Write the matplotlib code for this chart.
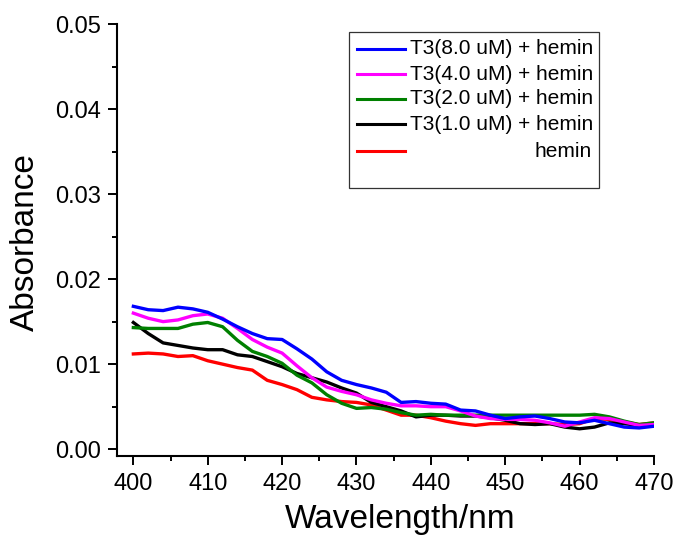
import matplotlib
matplotlib.use("Agg")
import matplotlib.pyplot as plt
from matplotlib.lines import Line2D
from matplotlib.patches import Rectangle
from matplotlib.ticker import MultipleLocator

plt.rcParams['font.family'] = ['Liberation Sans', 'DejaVu Sans']

wavelength = [400, 402, 404, 406, 408, 410, 412, 414, 416, 418, 420, 422, 424, 426,
              428, 430, 432, 434, 436, 438, 440, 442, 444, 446, 448, 450, 452, 454,
              456, 458, 460, 462, 464, 466, 468, 470]

t3_8 = [0.0168, 0.0164, 0.0163, 0.0167, 0.0165, 0.0161, 0.0153, 0.0144, 0.0136, 0.0130,
        0.0129, 0.0118, 0.0106, 0.0091, 0.0081, 0.0076, 0.0072, 0.0067, 0.0055, 0.0056,
        0.0054, 0.0053, 0.0046, 0.0045, 0.0040, 0.0036, 0.0038, 0.0039, 0.0036, 0.0032,
        0.0031, 0.0034, 0.0030, 0.0026, 0.0025, 0.0027]
t3_4 = [0.0160, 0.0154, 0.0150, 0.0152, 0.0157, 0.0159, 0.0154, 0.0142, 0.0129, 0.0120,
        0.0113, 0.0098, 0.0084, 0.0073, 0.0068, 0.0064, 0.0058, 0.0054, 0.0051, 0.0051,
        0.0050, 0.0050, 0.0045, 0.0039, 0.0036, 0.0035, 0.0035, 0.0034, 0.0031, 0.0027,
        0.0032, 0.0037, 0.0036, 0.0032, 0.0028, 0.0029]
t3_2 = [0.0143, 0.0142, 0.0142, 0.0142, 0.0147, 0.0149, 0.0144, 0.0128, 0.0115, 0.0109,
        0.0101, 0.0087, 0.0078, 0.0064, 0.0054, 0.0048, 0.0049, 0.0047, 0.0043, 0.0040,
        0.0041, 0.0040, 0.0040, 0.0040, 0.0040, 0.0040, 0.0040, 0.0040, 0.0040, 0.0040,
        0.0040, 0.0041, 0.0038, 0.0033, 0.0029, 0.0031]
t3_1 = [0.0149, 0.0136, 0.0125, 0.0122, 0.0119, 0.0117, 0.0117, 0.0111, 0.0109, 0.0103,
        0.0097, 0.0089, 0.0084, 0.0079, 0.0072, 0.0066, 0.0055, 0.0050, 0.0045, 0.0038,
        0.0040, 0.0040, 0.0039, 0.0039, 0.0037, 0.0034, 0.0030, 0.0029, 0.0030, 0.0026,
        0.0024, 0.0026, 0.0031, 0.0030, 0.0028, 0.0030]
hemin = [0.0112, 0.0113, 0.0112, 0.0109, 0.0110, 0.0104, 0.0100, 0.0096, 0.0093, 0.0081,
         0.0076, 0.0070, 0.0061, 0.0058, 0.0056, 0.0055, 0.0052, 0.0046, 0.0040, 0.0040,
         0.0037, 0.0033, 0.0030, 0.0028, 0.0030, 0.0030, 0.0030, 0.0030, 0.0030, 0.0029,
         0.0030, 0.0036, 0.0035, 0.0032, 0.0029, 0.0031]

series = [t3_8, t3_4, t3_2, t3_1, hemin]
labels = ["T3(8.0 uM) + hemin", "T3(4.0 uM) + hemin", "T3(2.0 uM) + hemin",
          "T3(1.0 uM) + hemin", "hemin"]
colors = ["#0000FF", "#FF00FF", "#008000", "#000000", "#FF0000"]

W, H = 678, 535
fig = plt.figure(figsize=(W / 100, H / 100), dpi=100)
ax = fig.add_axes([117 / W, 1 - 456 / H, (654 - 117) / W, (456 - 24) / H])

# draw in reverse so blue is on top
for ys, c in reversed(list(zip(series, colors))):
    ax.plot(wavelength, ys, color=c, lw=2.4, solid_joinstyle='round')

ax.set_xlim(397.8, 470)
ax.set_ylim(-0.0008, 0.05)
ax.xaxis.set_major_locator(MultipleLocator(10))
ax.xaxis.set_minor_locator(MultipleLocator(5))
ax.yaxis.set_major_locator(MultipleLocator(0.01))
ax.yaxis.set_minor_locator(MultipleLocator(0.005))
ax.yaxis.set_major_formatter(matplotlib.ticker.FormatStrFormatter('%.2f'))
ax.set_xticks([400, 410, 420, 430, 440, 450, 460, 470])

for s in ['top', 'right']:
    ax.spines[s].set_visible(False)
for s in ['left', 'bottom']:
    ax.spines[s].set_linewidth(1.5)
ax.tick_params(which='major', direction='out', length=6.5, width=1.4, labelsize=17)
ax.tick_params(which='minor', direction='out', length=3.6, width=1.4)
ax.tick_params(axis='x', which='major', pad=6)
ax.tick_params(axis='y', which='major', pad=5)

fig.text(25 / W, 1 - 242.5 / H, "Absorbance", rotation=90, ha='center', va='center', fontsize=24)
fig.text(400 / W, 1 - 528 / H, "Wavelength/nm", ha='center', va='baseline', fontsize=24)

# legend box
fig.patches.append(Rectangle((349 / W, 1 - 188 / H), (599 - 349) / W, (188 - 32) / H,
                             transform=fig.transFigure, fill=False, edgecolor='#333333', lw=0.9))
rows = [49, 74, 99, 124, 151]
for lab, c, ry in zip(labels, colors, rows):
    yf = 1 - ry / H
    fig.lines.append(Line2D([357 / W, 405 / W], [yf, yf], transform=fig.transFigure,
                            color=c, lw=2.2))
    if lab == "hemin":
        fig.text(592 / W, yf, lab, ha='right', va='center', fontsize=15)
    else:
        fig.text(410 / W, yf, lab, ha='left', va='center', fontsize=15)

fig.savefig("out.png", dpi=100)
